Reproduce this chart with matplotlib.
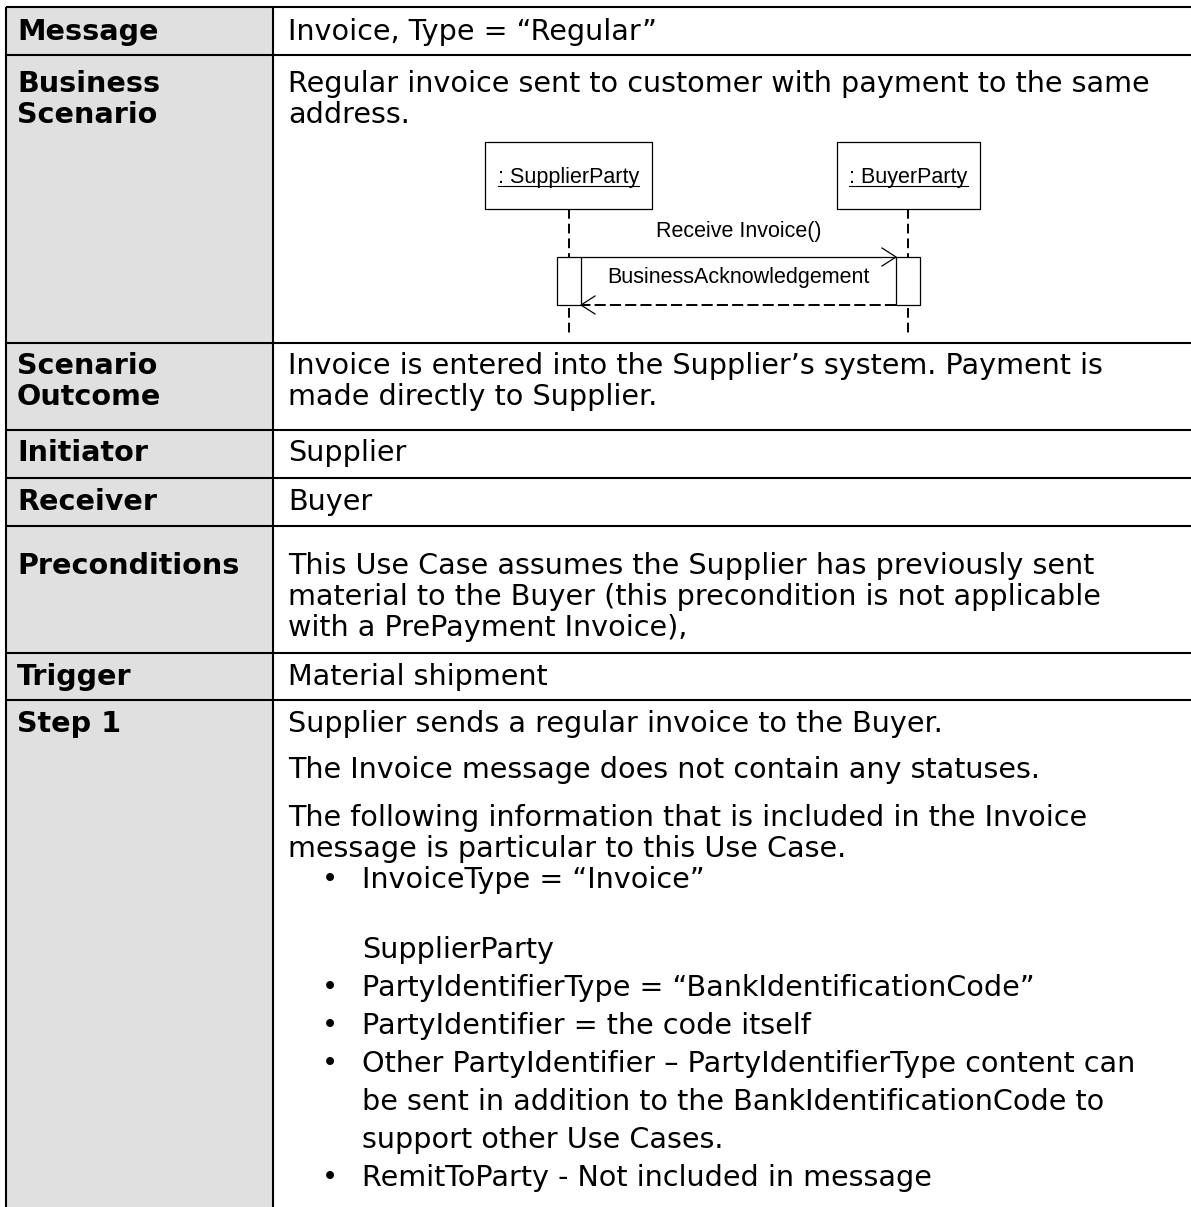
import matplotlib
matplotlib.use("Agg")
import matplotlib.pyplot as plt
from matplotlib.patches import Rectangle

plt.rcParams['lines.scale_dashes'] = False

# table content
row_labels = [["Message"], ["Business", "Scenario"], ["Scenario", "Outcome"],
              ["Initiator"], ["Receiver"], ["Preconditions"], ["Trigger"], ["Step 1"]]

message_lines = ["Invoice, Type = \u201cRegular\u201d"]
scenario_lines = ["Regular invoice sent to customer with payment to the same",
                  "address."]
outcome_lines = ["Invoice is entered into the Supplier\u2019s system. Payment is",
                 "made directly to Supplier."]
initiator_lines = ["Supplier"]
receiver_lines = ["Buyer"]
precondition_lines = ["This Use Case assumes the Supplier has previously sent",
                      "material to the Buyer (this precondition is not applicable",
                      "with a PrePayment Invoice),"]
trigger_lines = ["Material shipment"]
step1_lines = ["Supplier sends a regular invoice to the Buyer.",
               "The Invoice message does not contain any statuses.",
               "The following information that is included in the Invoice",
               "message is particular to this Use Case.",
               "InvoiceType = \u201cInvoice\u201d",
               "SupplierParty",
               "PartyIdentifierType = \u201cBankIdentificationCode\u201d",
               "PartyIdentifier = the code itself",
               "Other PartyIdentifier \u2013 PartyIdentifierType content can",
               "be sent in addition to the BankIdentificationCode to",
               "support other Use Cases.",
               "RemitToParty - Not included in message"]
# p = paragraph, b = bullet, c = indented continuation
step1_kinds = ["p", "p", "p", "p", "b", "c", "b", "b", "b", "c", "c", "b"]

# sequence diagram content
participants = [": SupplierParty", ": BuyerParty"]
call_label = "Receive Invoice()"
reply_label = "BusinessAcknowledgement"

# ---- layout (pixels) ----
W, H = 1191, 1207
row_edges = [7, 55, 343, 430, 478, 526, 653, 700, 1210]
label_base = [[40], [92, 123], [374, 405], [461], [510], [574], [685], [732]]
right_base = [[40], [92, 123], [374, 405], [461], [510], [574, 605, 636], [685],
              [732, 778, 826, 857, 888, 958, 996, 1034, 1072, 1110, 1148, 1186]]
right_rows = [message_lines, scenario_lines, outcome_lines, initiator_lines,
              receiver_lines, precondition_lines, trigger_lines, step1_lines]

x_left, x_div = 6, 273
x_lab, x_txt, x_bul, x_ind = 17, 288, 330, 362
fs = 20.6
gray = "#e0e0e0"

fig = plt.figure(figsize=(W / 100, H / 100), dpi=100)
ax = fig.add_axes([0, 0, 1, 1])
ax.set_xlim(0, W)
ax.set_ylim(H, 0)
ax.axis("off")

lw = 1.5
for i in range(len(row_labels)):
    top, bot = row_edges[i], row_edges[i + 1]
    ax.add_patch(Rectangle((x_left, top), x_div - x_left, bot - top,
                           facecolor=gray, edgecolor="none", zorder=0))
    for lab, yb in zip(row_labels[i], label_base[i]):
        ax.text(x_lab, yb, lab, fontsize=fs, fontweight="bold", family="DejaVu Sans",
                va="baseline", ha="left", color="black")
    kinds = step1_kinds if i == len(row_labels) - 1 else ["p"] * len(right_rows[i])
    for line, yb, k in zip(right_rows[i], right_base[i], kinds):
        if k == "p":
            ax.text(x_txt, yb, line, fontsize=fs, family="DejaVu Sans", va="baseline")
        else:
            if k == "b":
                ax.text(x_bul, yb - 1, "\u2022", fontsize=fs * 0.95, family="DejaVu Sans",
                        va="baseline", ha="center")
            ax.text(x_ind, yb, line, fontsize=fs, family="DejaVu Sans", va="baseline")

for y in row_edges[:-1]:
    ax.plot([x_left, W], [y, y], color="black", lw=lw, solid_capstyle="butt")
for x in (x_left, x_div):
    ax.plot([x, x], [row_edges[0], H], color="black", lw=lw, solid_capstyle="butt")

# ---- sequence diagram ----
boxes = [(485, 652), (837, 980)]
box_top, box_bot = 142, 209
life_x = [569, 908]
act_w = 24
act_top, act_bot = 257, 305
life_end = 333
dfs = 15.5
dlw = 0.9
dash = (0, (7, 3.6))

part_texts = []
for (x0, x1), name in zip(boxes, participants):
    ax.add_patch(Rectangle((x0, box_top), x1 - x0, box_bot - box_top,
                           facecolor="white", edgecolor="black", lw=dlw))
    part_texts.append(ax.text((x0 + x1) / 2, 183, name, fontsize=dfs,
                              family="Liberation Sans", ha="center", va="baseline"))

for lx in life_x:
    ax.plot([lx, lx], [box_bot, act_top], color="black", lw=1.4, linestyle=dash)
    ax.plot([lx, lx], [act_bot + 3, life_end], color="black", lw=1.4, linestyle=dash)
    ax.add_patch(Rectangle((lx - act_w / 2, act_top), act_w, act_bot - act_top,
                           facecolor="white", edgecolor="black", lw=dlw))

xa = life_x[0] + act_w / 2
xb = life_x[1] - act_w / 2
ax.plot([xa, xb], [act_top, act_top], color="black", lw=dlw)
ax.plot([xb - 14, xb, xb - 14], [act_top - 9, act_top, act_top + 9], color="black", lw=dlw)
ax.plot([xb, xa], [act_bot, act_bot], color="black", lw=1.4, linestyle=(0, (8, 3)))
ax.plot([xa + 14, xa, xa + 14], [act_bot - 9, act_bot, act_bot + 9], color="black", lw=dlw)

mid = (xa + xb) / 2
ax.text(mid, 237, call_label, fontsize=dfs, family="Liberation Sans",
        ha="center", va="baseline")
ax.text(mid, 283, reply_label, fontsize=dfs, family="Liberation Sans",
        ha="center", va="baseline")

# underline the participant names
fig.canvas.draw()
r = fig.canvas.get_renderer()
inv = ax.transData.inverted()
for t in part_texts:
    bb = t.get_window_extent(renderer=r)
    ux0 = inv.transform((bb.x0, bb.y0))[0]
    ux1 = inv.transform((bb.x1, bb.y0))[0]
    ax.plot([ux0, ux1], [186, 186], color="black", lw=0.8)

fig.savefig("out.png", dpi=100, facecolor="white")
